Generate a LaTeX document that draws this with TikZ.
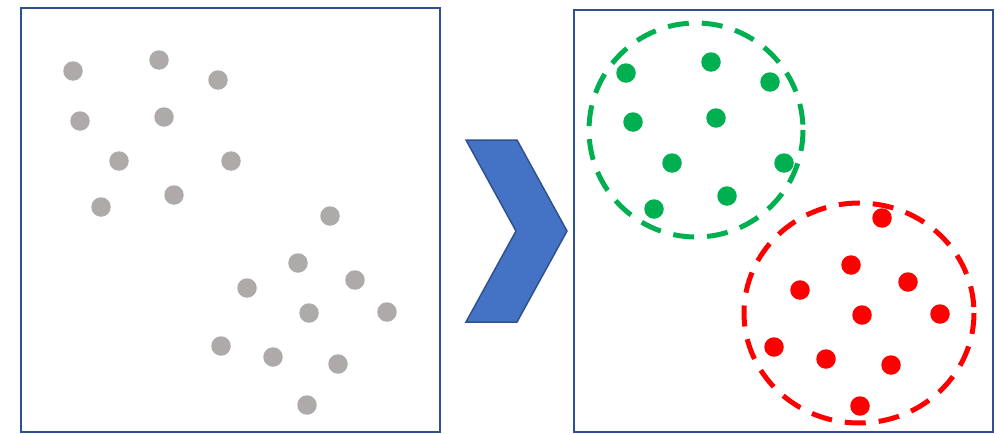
\documentclass[tikz,border=0pt]{standalone}
\usepackage{tikz}
\usetikzlibrary{positioning}

\definecolor{boxblue}{HTML}{2F528F}
\definecolor{chevfill}{HTML}{4472C4}
\definecolor{dotgray}{HTML}{AEAAAA}
\definecolor{clugreen}{HTML}{00B050}
\definecolor{clured}{HTML}{FF0000}

\begin{document}
\begin{tikzpicture}[
    x=1pt, y=-1pt,
    panel/.style={rectangle, draw=boxblue, line width=2pt, inner sep=0pt},
    pt/.style={circle, inner sep=0pt, minimum size=19.5pt},
    raw/.style={pt, fill=dotgray},
    grn/.style={pt, fill=clugreen},
    rd/.style={pt, fill=clured},
    cluster/.style={line width=5pt, dash pattern=on 21pt off 13pt}
]
\useasboundingbox (0,0) rectangle (1002,434);

% the two panels
\node[panel, minimum width=419pt, minimum height=424pt] (before) at (230.5,220) {};
\node[panel, minimum width=419pt, minimum height=422pt] (after) at (783.5,221) {};

% unlabelled points
\foreach \px/\py [count=\i] in {73/71, 159/60, 218/80, 80/121, 164/117, 119/161, 231/161,
    101/207, 174/195, 330/216, 298/263, 247/288, 355/280, 387/312, 309/313,
    221/346, 273/357, 338/364, 307/405}
  \node[raw] (p\i) at (\px,\py) {};

% chevron between the panels
\draw[boxblue, fill=chevfill, line width=1.5pt, line join=miter]
  (466,140) -- (517,140) -- (567,231) -- (517,322) -- (466,322) -- (516,231) -- cycle;

% first cluster
\draw[cluster, clugreen] (696,130) circle (107);
\foreach \px/\py [count=\i] in {626/73, 711/62, 770/82, 633/122, 716/118, 672/163,
    784/163, 654/209, 727/196}
  \node[grn] (a\i) at (\px,\py) {};

% second cluster
\draw[cluster, clured] (859,313) ellipse (115 and 110);
\foreach \px/\py [count=\i] in {882/218, 851/265, 800/290, 908/282, 940/314, 862/315,
    774/347, 826/359, 891/365, 860/406}
  \node[rd] (b\i) at (\px,\py) {};

\end{tikzpicture}
\end{document}
